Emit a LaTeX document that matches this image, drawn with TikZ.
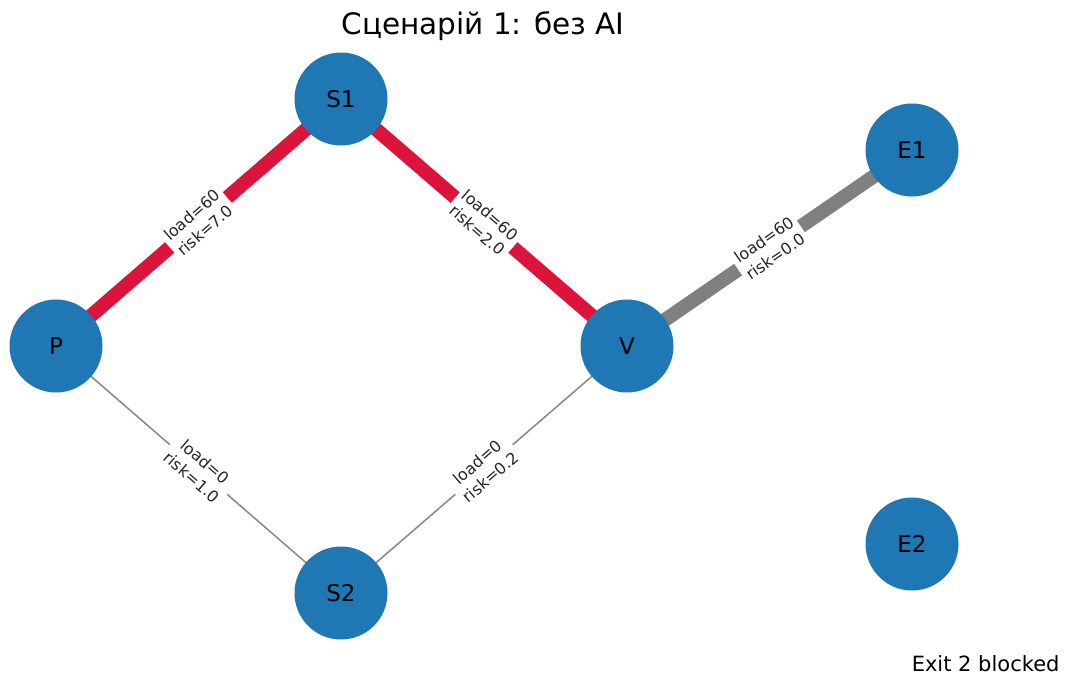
\documentclass[tikz,border=0pt]{standalone}
\usepackage{fontspec}
\setmainfont{DejaVu Sans}
\pgfdeclarelayer{background}
\pgfsetlayers{background,main}
\definecolor{nodeblue}{HTML}{1F77B4}
\definecolor{loadred}{HTML}{DC143C}
\definecolor{loadgray}{HTML}{808080}
\definecolor{idlegray}{HTML}{8C8C8C}
\begin{document}
\begin{tikzpicture}[x=1pt,y=-1pt,
  station/.style={circle,fill=nodeblue,minimum size=93pt,inner sep=0pt,
    font=\fontsize{23}{27}\selectfont},
  hot/.style={draw=loadred,line width=14pt},
  busy/.style={draw=loadgray,line width=14pt},
  idle/.style={draw=idlegray,line width=1.6pt},
  edgelabel/.style={midway,sloped,fill=white,inner xsep=4pt,inner ysep=1pt,
    align=center,text=black!85,font=\fontsize{16}{20}\selectfont}]
\useasboundingbox (0,0) rectangle (1067,675);

\node[font=\fontsize{29.5}{34}\selectfont] (title) at (483,26) {Сценарій 1: без AI};

\node[station] (S1) at (341,99) {S1};
\node[station] (P)  at (56,346) {P};
\node[station] (V)  at (627,346) {V};
\node[station] (E1) at (912,150) {E1};
\node[station] (E2) at (912,544) {E2};
\node[station] (S2) at (341,593) {S2};

\node[anchor=base east,font=\fontsize{21}{25}\selectfont] (note) at (1063,671) {Exit 2 blocked};

\begin{pgfonlayer}{background}
  \draw[hot]  (P.center)  -- node[edgelabel] {load=60\\risk=7.0} (S1.center);
  \draw[hot]  (S1.center) -- node[edgelabel] {load=60\\risk=2.0} (V.center);
  \draw[busy] (V.center)  -- node[edgelabel] {load=60\\risk=0.0} (E1.center);
  \draw[idle] (P.center)  -- node[edgelabel] {load=0\\risk=1.0} (S2.center);
  \draw[idle] (S2.center) -- node[edgelabel] {load=0\\risk=0.2} (V.center);
\end{pgfonlayer}
\end{tikzpicture}
\end{document}
